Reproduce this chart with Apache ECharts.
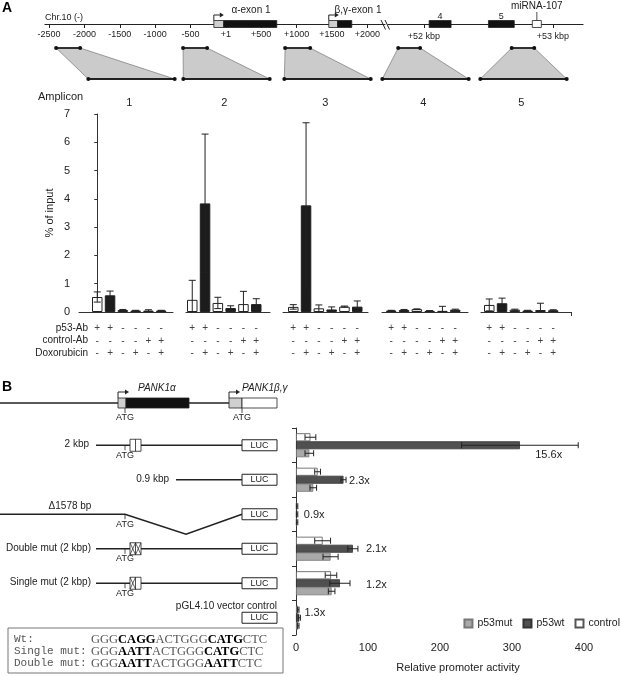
<!DOCTYPE html>
<html>
<head>
<meta charset="utf-8">
<script src="https://cdn.jsdelivr.net/npm/echarts@6/dist/echarts.min.js"></script>
<style>
html, body { margin: 0; padding: 0; background: #fff; }
#chart { width: 621px; height: 676px; }
</style>
</head>
<body>
<div id="chart"></div>
<script>
// ---- panel A: genomic map (bp) ----
const chrTicksLeft = [-2500, -2000, -1500, -1000, -500, 0, 500, 1000, 1500, 2000];
const chrTicksRight = [52000, 53000];
const exonsLeft = [[-170, -30, 'utr'], [-30, 720, 'cds'], [1455, 1580, 'utr'], [1580, 1780, 'cds']];
const exonsRight = [[52040, 52210, 'cds'], [52500, 52700, 'cds'], [52840, 52910, 'mirna']];
const exonsRightNames = ['4', '5', 'miRNA-107'];
const ampliconSpans = [[-2400, -2060], [-605, -265], [838, 1192], [51800, 51970], [52680, 52855]];
const ampliconNames = ['1', '2', '3', '4', '5'];

// ---- panel A: ChIP, % of input (6 conditions per amplicon) ----
const p53Ab  = ['+', '+', '-', '-', '-', '-'];
const ctrlAb = ['-', '-', '-', '-', '+', '+'];
const doxo   = ['-', '+', '-', '+', '-', '+'];
const chip1 = [0.53, 0.59, 0.07, 0.05, 0.05, 0.05];
const chip2 = [0.43, 3.84, 0.32, 0.14, 0.28, 0.28];
const chip3 = [0.18, 3.77, 0.13, 0.09, 0.19, 0.19];
const chip4 = [0.05, 0.07, 0.10, 0.04, 0.04, 0.08];
const chip5 = [0.25, 0.31, 0.08, 0.05, 0.07, 0.06];
const chipErr1 = [0.18, 0.15, 0.02, 0.01, 0.03, 0.01];
const chipErr2 = [0.69, 2.45, 0.20, 0.08, 0.45, 0.19];
const chipErr3 = [0.08, 2.92, 0.12, 0.09, 0.02, 0.20];
const chipErr4 = [0.01, 0.02, 0.01, 0.01, 0.16, 0.02];
const chipErr5 = [0.21, 0.18, 0.02, 0.01, 0.24, 0.02];
const yTicksA = [0, 7];

// ---- panel B: promoter activity ----
const constructs = ['2 kbp', '0.9 kbp', '\u03941578 bp', 'Double mut (2 kbp)', 'Single mut (2 kbp)', 'pGL4.10 vector control'];
const actControl = [20, 30, 1.5, 37, 48.6, 3.2];
const actWt      = [311, 66, 1.5, 79, 61, 4.6];
const actMut     = [18.5, 24, 1.5, 48, 49.5, 3.2];
const errControl = [7.5, 4, 1, 11, 8, 1];
const errWt      = [81, 3.5, 1, 7, 14, 1.5];
const errMut     = [6, 4.6, 1, 10.5, 4.6, 1];
const foldChange = ['15.6x', '2.3x', '0.9x', '2.1x', '1.2x', '1.3x'];
const xTicksB = [0, 100, 200, 300, 400];
const seqNames = ['Wt:', 'Single mut:', 'Double mut:'];
const seqs = ['GGG*CAGG*ACTGGG*CATG*CTC', 'GGG*AATT*ACTGGG*CATG*CTC', 'GGG*AATT*ACTGGG*AATT*CTC'];

const FONT = 'Liberation Sans';
const INK = '#222';
const chipVals = [chip1, chip2, chip3, chip4, chip5];
const chipErrs = [chipErr1, chipErr2, chipErr3, chipErr4, chipErr5];

// group layout: left, width, first bar centre (px); slot width
const groupBox = [[79, 94, 97.25], [186, 84, 192.25], [283, 85, 293.25], [382, 86, 391.25], [481, 90, 489.25]];
const SLOT = 12.8;

const chart = echarts.init(document.getElementById('chart'));

const grid = [
  { left: 45, top: 23, width: 340, height: 1 },
  { left: 388, top: 23, width: 195, height: 1 }
];
const lineCol = { lineStyle: { color: INK, width: 1.2 } };
const xAxis = [
  {
    gridIndex: 0, type: 'value', min: -2557, max: 2250, splitLine: { show: false },
    axisLine: lineCol,
    axisTick: { customValues: chrTicksLeft, length: 4, lineStyle: { color: INK } },
    axisLabel: {
      customValues: chrTicksLeft, fontSize: 9, margin: 6, color: INK,
      formatter: v => v === 0 ? '+1' : (v > 0 ? '+' + v : String(v))
    }
  },
  {
    gridIndex: 1, type: 'value', min: 51721, max: 53233, splitLine: { show: false },
    axisLine: lineCol,
    axisTick: { customValues: chrTicksRight, length: 4, lineStyle: { color: INK } },
    axisLabel: { customValues: chrTicksRight, fontSize: 9, margin: 8, color: INK, formatter: v => '+' + v / 1000 + ' kbp' }
  }
];
const yAxis = [
  { gridIndex: 0, type: 'value', min: 0, max: 1, show: false },
  { gridIndex: 1, type: 'value', min: 0, max: 1, show: false }
];

// exon boxes on the genomic scale
function exonRender(list, names) {
  return function (params, api) {
    const f = list[params.dataIndex];
    const a = api.coord([f[0], 0]), b = api.coord([f[1], 0]);
    const y = a[1];
    const fill = f[2] === 'cds' ? '#111' : (f[2] === 'utr' ? '#cfcfcf' : '#fff');
    const kids = [{
      type: 'rect', shape: { x: a[0], y: y - 3.5, width: b[0] - a[0], height: 7 },
      style: { fill: fill, stroke: INK, lineWidth: 0.8 }
    }];
    if (f[2] === 'utr') {
      kids.push({ type: 'polyline', shape: { points: [[a[0], y - 3.5], [a[0], y - 9], [a[0] + 6, y - 9]] }, style: { stroke: INK, lineWidth: 1, fill: null } });
      kids.push({ type: 'polygon', shape: { points: [[a[0] + 6, y - 11.5], [a[0] + 10, y - 9], [a[0] + 6, y - 6.5]] }, style: { fill: INK } });
    }
    if (names) {
      const nm = names[params.dataIndex];
      const cx = (a[0] + b[0]) / 2;
      if (f[2] === 'mirna') {
        kids.push({ type: 'line', shape: { x1: cx, y1: y - 12, x2: cx, y2: y - 3.5 }, style: { stroke: INK, lineWidth: 0.8 } });
        kids.push({ type: 'text', style: { text: nm, x: cx, y: y - 18, align: 'center', verticalAlign: 'middle', fontSize: 10, fontFamily: FONT, fill: INK } });
      } else {
        kids.push({ type: 'text', style: { text: nm, x: cx, y: y - 7, align: 'center', verticalAlign: 'middle', fontSize: 9, fontFamily: FONT, fill: INK } });
      }
    }
    return { type: 'group', children: kids };
  };
}

const series = [
  { type: 'custom', xAxisIndex: 0, yAxisIndex: 0, clip: false, silent: true, encode: { x: [0, 1] },
    data: exonsLeft.map(f => [f[0], f[1]]), renderItem: exonRender(exonsLeft, null) },
  { type: 'custom', xAxisIndex: 1, yAxisIndex: 1, clip: false, silent: true, encode: { x: [0, 1] },
    data: exonsRight.map(f => [f[0], f[1]]), renderItem: exonRender(exonsRight, exonsRightNames) }
];

// vertical error bars
function errV(params, api) {
  const x = api.value(0), v = api.value(1), e = api.value(2);
  const top = api.coord([x, v + e]);
  const bot = api.coord([x, Math.max(0, v - e)]);
  const c = 3.5, st = { stroke: INK, lineWidth: 1 };
  const kids = [
    { type: 'line', shape: { x1: top[0], y1: top[1], x2: bot[0], y2: bot[1] }, style: st },
    { type: 'line', shape: { x1: top[0] - c, y1: top[1], x2: top[0] + c, y2: top[1] }, style: st }
  ];
  if (v - e > 0) kids.push({ type: 'line', shape: { x1: bot[0] - c, y1: bot[1], x2: bot[0] + c, y2: bot[1] }, style: st });
  return { type: 'group', children: kids };
}

groupBox.forEach((b, g) => {
  const gi = grid.length;
  const min = -(b[2] - b[0]) / SLOT, max = min + b[1] / SLOT;
  grid.push({ left: b[0], top: 114, width: b[1], height: 198 });
  const xb = xAxis.length;
  xAxis.push({
    gridIndex: gi, type: 'value', min: min, max: max, splitLine: { show: false },
    axisLine: { lineStyle: { color: '#333', width: 1 } },
    axisTick: g === 4 ? { show: true, customValues: [max], length: 4, lineStyle: { color: '#333' } } : { show: false },
    axisLabel: {
      customValues: [0, 1, 2, 3, 4, 5], fontSize: 10, lineHeight: 12.5, margin: 10, color: '#444',
      formatter: v => { const i = Math.round(v); return p53Ab[i] + '\n' + ctrlAb[i] + '\n' + doxo[i]; }
    }
  });
  xAxis.push({
    gridIndex: gi, type: 'value', position: 'top', min: min, max: max, splitLine: { show: false },
    axisLine: { show: false }, axisTick: { show: false },
    axisLabel: { customValues: [2.5], fontSize: 11, margin: 6, color: INK, formatter: () => ampliconNames[g] }
  });
  const yi = yAxis.length;
  yAxis.push(g === 0 ? {
    gridIndex: gi, type: 'value', min: yTicksA[0], max: yTicksA[1], interval: 1, splitLine: { show: false },
    axisLine: { show: true, lineStyle: { color: '#333' } },
    axisTick: { show: true, length: 3, lineStyle: { color: '#333' } },
    axisLabel: { fontSize: 11, margin: 9, color: INK },
    name: '% of input', nameLocation: 'middle', nameGap: 24, nameRotate: 90,
    nameTextStyle: { fontSize: 11, color: INK }
  } : { gridIndex: gi, type: 'value', min: yTicksA[0], max: yTicksA[1], show: false });
  series.push({
    type: 'bar', xAxisIndex: xb, yAxisIndex: yi, barWidth: 10.5, silent: true,
    data: chipVals[g].map((v, i) => [i, v]),
    itemStyle: { color: p => (p.dataIndex % 2 ? '#1c1c1c' : '#fff'), borderColor: '#222', borderWidth: 1 }
  });
  series.push({
    type: 'custom', xAxisIndex: xb, yAxisIndex: yi, z: 3, silent: true, encode: { x: 0, y: 1 },
    data: chipVals[g].map((v, i) => [i, v, chipErrs[g][i]]), renderItem: errV
  });
});

// ---- panel B chart ----
const gB = grid.length;
grid.push({ left: 296, top: 428, width: 324, height: 207 });
const xB = xAxis.length;
xAxis.push({
  gridIndex: gB, type: 'value', min: 0, max: 450, splitLine: { show: false },
  axisLine: { lineStyle: { color: '#333' } },
  axisTick: { customValues: xTicksB, length: 4, lineStyle: { color: '#333' } },
  axisLabel: { customValues: xTicksB, fontSize: 11, margin: 7, color: INK },
  name: 'Relative promoter activity', nameLocation: 'middle', nameGap: 27,
  nameTextStyle: { fontSize: 11, color: INK }
});
const yB = yAxis.length;
yAxis.push({
  gridIndex: gB, type: 'category', data: constructs, inverse: true,
  axisLine: { lineStyle: { color: '#333' } },
  axisTick: { show: true, length: 4, lineStyle: { color: '#333' } },
  axisLabel: { show: false }
});

function errH(offset) {
  return function (params, api) {
    const v = api.value(0), c = api.value(1), e = api.value(2);
    const r = api.coord([v + e, c]), l = api.coord([Math.max(0, v - e), c]);
    const y = r[1] + offset, h = 3, st = { stroke: INK, lineWidth: 1 };
    const kids = [
      { type: 'line', shape: { x1: l[0], y1: y, x2: r[0], y2: y }, style: st },
      { type: 'line', shape: { x1: r[0], y1: y - h, x2: r[0], y2: y + h }, style: st }
    ];
    if (v - e > 0) kids.push({ type: 'line', shape: { x1: l[0], y1: y - h, x2: l[0], y2: y + h }, style: st });
    return { type: 'group', children: kids };
  };
}
const barsB = [
  ['control', actControl, errControl, { color: '#fff', borderColor: '#555', borderWidth: 0.8 }, -8],
  ['p53wt', actWt, errWt, { color: '#505050', borderColor: '#333', borderWidth: 0.8 }, 0],
  ['p53mut', actMut, errMut, { color: '#a9a9a9', borderColor: '#777', borderWidth: 0.8 }, 8]
];
barsB.forEach(s => {
  series.push({
    name: s[0], type: 'bar', xAxisIndex: xB, yAxisIndex: yB, barWidth: 8, barGap: '0%', silent: true,
    data: s[1], itemStyle: s[3]
  });
});
barsB.forEach(s => {
  series.push({
    type: 'custom', xAxisIndex: xB, yAxisIndex: yB, z: 3, silent: true, encode: { x: 0, y: 1 },
    data: s[1].map((v, i) => [v, i, s[2][i]]), renderItem: errH(s[4])
  });
});
// fold-change labels next to the p53wt error bar end
const foldShift = [[-43, 10], [3, 1], [6, 1], [8, 0], [16, 2], [4, -5]];
series.push({
  type: 'custom', xAxisIndex: xB, yAxisIndex: yB, z: 4, silent: true, clip: false, encode: { x: 0, y: 1 },
  data: actWt.map((v, i) => [v + errWt[i], i]),
  renderItem: (params, api) => {
    const p = api.coord([api.value(0), api.value(1)]);
    const s = foldShift[params.dataIndex];
    return { type: 'text', style: { text: foldChange[params.dataIndex], x: p[0] + s[0], y: p[1] + s[1],
      align: 'left', verticalAlign: 'middle', fontSize: 11, fontFamily: FONT, fill: INK } };
  }
});

chart.setOption({
  animation: false,
  textStyle: { fontFamily: FONT, color: INK },
  grid: grid, xAxis: xAxis, yAxis: yAxis, series: series,
  legend: {
    data: ['p53mut', 'p53wt', 'control'], right: 1, top: 618, icon: 'rect', orient: 'horizontal',
    itemWidth: 8, itemHeight: 8, itemGap: 10, selectedMode: false, padding: 0,
    textStyle: { fontSize: 10.5, color: INK, fontFamily: FONT }
  }
});

// ---- schematic drawings ----
const gr = [];
function txt(t, x, y, o) {
  o = o || {};
  gr.push({ type: 'text', silent: true, style: Object.assign({
    text: t, x: x, y: y, fontSize: 10, fontFamily: FONT, fill: INK, align: 'left', verticalAlign: 'middle'
  }, o) });
}
function ln(x1, y1, x2, y2, w, c) {
  gr.push({ type: 'line', silent: true, shape: { x1, y1, x2, y2 }, style: { stroke: c || INK, lineWidth: w || 1 } });
}
function box(x, y, w, h, fill, stroke, lw) {
  gr.push({ type: 'rect', silent: true, shape: { x, y, width: w, height: h }, style: { fill: fill, stroke: stroke || INK, lineWidth: lw || 0.8 } });
}

txt('A', 2, 8, { fontSize: 14, fontWeight: 'bold', fill: '#000' });
txt('Chr.10 (-)', 45, 18, { fontSize: 9 });
txt('\u03b1-exon 1', 251, 10, { fontSize: 10, align: 'center' });
txt('\u03b2,\u03b3-exon 1', 358, 10, { fontSize: 10, align: 'center' });
// axis break
ln(381, 20, 385.5, 29.5, 1);
ln(385, 20, 389.5, 29.5, 1);
txt('Amplicon', 38, 97, { fontSize: 11 });
txt('p53-Ab', 88, 328, { align: 'right' });
txt('control-Ab', 88, 340.5, { align: 'right' });
txt('Doxorubicin', 88, 353, { align: 'right' });

// amplicon trapezoids: genomic span on top, bar group below
ampliconSpans.forEach((sp, g) => {
  const ax = g < 3 ? 0 : 1;
  const t0 = chart.convertToPixel({ xAxisIndex: ax }, sp[0]);
  const t1 = chart.convertToPixel({ xAxisIndex: ax }, sp[1]);
  const b0 = chart.convertToPixel({ xAxisIndex: 2 + 2 * g }, -0.7);
  const b1 = chart.convertToPixel({ xAxisIndex: 2 + 2 * g }, 6.05);
  const yt = 48, yb = 79;
  gr.push({ type: 'polygon', silent: true, shape: { points: [[t0, yt], [t1, yt], [b1, yb], [b0, yb]] },
    style: { fill: '#cbcbcb', stroke: '#777', lineWidth: 0.7 } });
  ln(t0, yt, t1, yt, 1.8, '#222');
  ln(b0, yb, b1, yb, 1.8, '#222');
  [[t0, yt], [t1, yt], [b0, yb], [b1, yb]].forEach(p =>
    gr.push({ type: 'circle', silent: true, shape: { cx: p[0], cy: p[1], r: 2 }, style: { fill: '#111' } }));
});

// panel B gene model
txt('B', 2, 387, { fontSize: 14, fontWeight: 'bold', fill: '#000' });
const gy = 403;
ln(0, gy, 242, gy, 1.5);
box(118, gy - 5, 8, 10, '#cfcfcf');
box(126, gy - 5, 63, 10, '#111');
box(229, gy - 5, 13, 10, '#cfcfcf');
box(242, gy - 5, 35, 10, '#fff');
[118, 229].forEach(x => {
  gr.push({ type: 'polyline', silent: true, shape: { points: [[x, gy - 5], [x, gy - 11], [x + 7, gy - 11]] }, style: { stroke: INK, lineWidth: 1, fill: null } });
  gr.push({ type: 'polygon', silent: true, shape: { points: [[x + 7, gy - 13.5], [x + 11, gy - 11], [x + 7, gy - 8.5]] }, style: { fill: INK } });
});
txt('PANK1\u03b1', 138, 388, { fontStyle: 'italic', fontSize: 10 });
txt('PANK1\u03b2,\u03b3', 242, 388, { fontStyle: 'italic', fontSize: 10 });
function atg(x, y) {
  ln(x, y, x, y + 5, 0.8);
  txt('ATG', x, y + 10, { fontSize: 9, align: 'center' });
}
atg(125, gy + 5);
atg(242, gy + 5);

// constructs, one per category row of the chart
const rowY = constructs.map((c, i) => chart.convertToPixel({ yAxisIndex: yB }, i));
function element(y, hatch) {
  box(130, y - 6, 11, 12, '#fff');
  ln(135.5, y - 6, 135.5, y + 6, 0.8);
  hatch.forEach((h, k) => {
    if (!h) return;
    const x0 = 130 + k * 5.5, x1 = x0 + 5.5;
    ln(x0, y - 6, x1, y + 6, 0.7);
    ln(x0, y + 6, x1, y - 6, 0.7);
  });
}
rowY.forEach((y, i) => {
  if (i === 0 || i === 3 || i === 4) {
    txt(constructs[i], i === 0 ? 89 : 91, y - 1, { align: 'right' });
    ln(96, y, 242, y, 1.6);
    atg(125, y);
    element(y, i === 0 ? [0, 0] : (i === 3 ? [1, 1] : [1, 0]));
  } else if (i === 1) {
    txt(constructs[i], 169, y - 1, { align: 'right' });
    ln(176, y, 242, y, 1.6);
  } else if (i === 2) {
    txt(constructs[i], 70, y - 8, { align: 'center' });
    gr.push({ type: 'polyline', silent: true, shape: { points: [[0, y], [125, y], [186, y + 20], [242, y]] }, style: { stroke: INK, lineWidth: 1.6, fill: null } });
    atg(125, y);
  } else {
    txt(constructs[i], 277, y - 12, { align: 'right' });
  }
  box(242, y - 5.5, 35, 11, '#fff', INK, 1);
  txt('LUC', 259.5, y, { fontSize: 9, align: 'center' });
});

// sequence box
box(8, 628, 275, 45, null, '#777', 1);
seqNames.forEach((n, i) => {
  const y = 639.5 + i * 12;
  txt(n, 14, y, { fontFamily: 'Liberation Mono', fontSize: 11, fill: '#555' });
  const parts = seqs[i].split('*');
  const rich = parts.map((p, k) => '{' + (k % 2 ? 'b' : 'n') + '|' + p + '}').join('');
  gr.push({ type: 'text', silent: true, style: {
    text: rich, x: 91, y: y, align: 'left', verticalAlign: 'middle',
    rich: {
      n: { fontFamily: 'Liberation Serif', fontSize: 12.5, fill: '#555' },
      b: { fontFamily: 'Liberation Serif', fontSize: 12.5, fontWeight: 'bold', fill: '#000' }
    }
  } });
});

chart.setOption({ graphic: gr });
</script>
</body>
</html>
